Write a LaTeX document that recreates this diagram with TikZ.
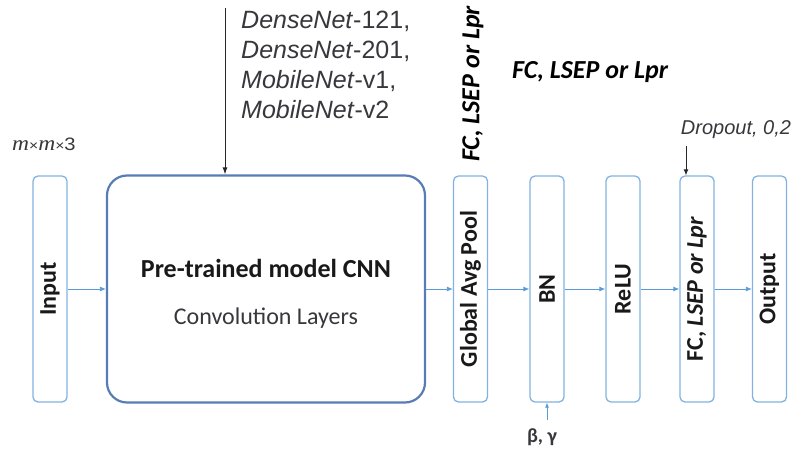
\documentclass[tikz,border=0pt]{standalone}
\usepackage{fontspec}
\setmainfont{Carlito}
\newfontfamily\arialf{Liberation Sans}
\newfontfamily\timesf{Liberation Serif}
\usetikzlibrary{arrows.meta}
\definecolor{boxblue}{RGB}{130,178,225}
\definecolor{cnnblue}{RGB}{88,125,182}
\definecolor{arrblue}{RGB}{91,155,213}
\definecolor{txtgray}{RGB}{55,55,60}
\begin{document}
\begin{tikzpicture}[x=1pt,y=-1pt,
  layer/.style={draw=boxblue,line width=1.3pt,rounded corners=5pt,minimum width=34pt,minimum height=226pt,inner sep=0pt,font=\bfseries\fontsize{24}{26}\selectfont,text=black!90},
  conn/.style={draw=arrblue,line width=0.8pt,-{Latex[length=6pt,width=5pt]}},
  blk/.style={draw=black!85,line width=1pt,-{Latex[length=7pt,width=5pt]}}]
\useasboundingbox (0,0) rectangle (795,452);
\node[layer] (input) at (50,289) {\rotatebox{90}{Input}};
\node[draw=cnnblue,line width=2.2pt,rounded corners=20pt,minimum width=318pt,minimum height=227pt,inner sep=0pt] (cnn) at (266,289) {};
\node[font=\bfseries\fontsize{26}{28}\selectfont,text=black!90] (cnnt) at (266,268) {Pre-trained model CNN};
\node[font=\fontsize{24}{26}\selectfont,text=txtgray] (cnns) at (266,318) {Convolution Layers};
\node[layer] (gap) at (470.5,289) {\rotatebox{90}{Global Avg Pool}};
\node[layer] (bn) at (547,289) {\rotatebox{90}{BN}};
\node[layer] (relu) at (623,289) {\rotatebox{90}{ReLU}};
\node[layer] (fc) at (697,289) {\rotatebox{90}{FC, \textit{LSEP or Lpr}}};
\node[layer] (out) at (769.5,289) {\rotatebox{90}{Output}};
\draw[conn] (input) -- (cnn);
\draw[conn] (cnn) -- (gap);
\draw[conn] (gap) -- (bn);
\draw[conn] (bn) -- (relu);
\draw[conn] (relu) -- (fc);
\draw[conn] (fc) -- (out);
% top labels
\node[anchor=base west,align=left,font=\arialf\fontsize{25}{30}\selectfont,text=txtgray,inner sep=0pt] (nets) at (241,118)
 {\textit{DenseNet}-121,\\ \textit{DenseNet}-201,\\ \textit{MobileNet}-v1,\\ \textit{MobileNet}-v2};
\coordinate (topsrc) at (225,8);
\draw[blk] (topsrc) -- (topsrc |- cnn.north);
\node[anchor=base west,inner sep=0pt,font=\timesf\fontsize{21}{22}\selectfont,text=txtgray] (mm) at (12,150) {\scalebox{1.12}[1]{\textit{m}{\arialf\fontsize{14}{14}\selectfont×}\textit{m}{\arialf\fontsize{14}{14}\selectfont×}{\arialf\fontsize{18}{18}\selectfont 3}}};
\node[rotate=90,font=\bfseries\itshape\fontsize{26}{28}\selectfont] (fcv) at (473,84) {FC, LSEP or Lpr};
\node[font=\bfseries\itshape\fontsize{26}{28}\selectfont] (fch) at (590,72) {FC, LSEP or Lpr};
\node[font=\arialf\itshape\fontsize{20}{22}\selectfont,text=txtgray] (drop) at (736,130) {Dropout, 0,2};
\coordinate (dsrc) at (686,146);
\draw[blk,line width=0.9pt,-{Latex[length=6pt,width=5pt]}] (dsrc) -- (dsrc |- fc.north);
\coordinate (bsrc) at (547,420);
\draw[conn,-{Latex[length=5pt,width=4pt]}] (bsrc) -- (bn.south);
\node[font=\bfseries\fontsize{20}{22}\selectfont,text=txtgray] (bg) at (542,437) {β, γ};
\end{tikzpicture}
\end{document}
